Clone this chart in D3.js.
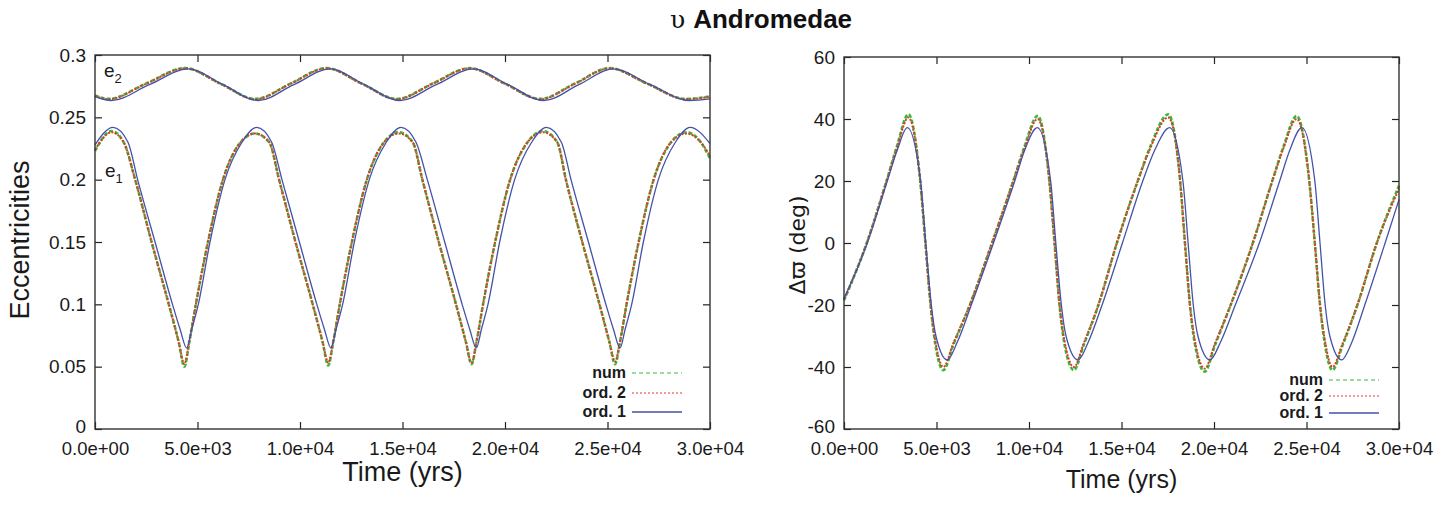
<!DOCTYPE html>
<html>
<head>
<meta charset="utf-8">
<script src="https://cdn.jsdelivr.net/npm/d3@7"></script>
<style>
  body { margin: 0; background: #fff; }
  svg { font-family: "Liberation Sans", Arial, Helvetica, sans-serif; }
</style>
</head>
<body>
<div id="chart"></div>
<script>
// ---- data ----
var xTicks = [0, 5000, 10000, 15000, 20000, 25000, 30000];
var xTickLabels = ["0.0e+00", "5.0e+03", "1.0e+04", "1.5e+04", "2.0e+04", "2.5e+04", "3.0e+04"];
var eTicks = [0, 0.05, 0.1, 0.15, 0.2, 0.25, 0.3];
var eTickLabels = ["0", "0.05", "0.1", "0.15", "0.2", "0.25", "0.3"];
var dTicks = [-60, -40, -20, 0, 20, 40, 60];
var dTickLabels = ["-60", "-40", "-20", "0", "20", "40", "60"];
var seriesNames = ["num", "ord. 2", "ord. 1"];

// e1, ord. 1 (time in yrs)
var tE1Ord1 = [0, 880, 1610,
  2080, 2930, 3780, 4150, 4470, 4720, 5040, 5610, 6340, 7170, 7890, 8620,
  9120, 9970, 10820, 11190, 11510, 11760, 12080, 12650, 13380, 14210, 14930, 15660,
  16210, 17060, 17910, 18280, 18600, 18850, 19170, 19740, 20470, 21300, 22020, 22750,
  23220, 24070, 24920, 25290, 25610, 25860, 26180, 26750, 27480, 28310, 29030, 30000];
var e1Ord1 = [0.228, 0.242, 0.23,
  0.2, 0.15, 0.1, 0.08, 0.065, 0.08, 0.1, 0.15, 0.2, 0.23, 0.242, 0.23,
  0.2, 0.15, 0.1, 0.08, 0.065, 0.08, 0.1, 0.15, 0.2, 0.23, 0.242, 0.23,
  0.2, 0.15, 0.1, 0.08, 0.065, 0.08, 0.1, 0.15, 0.2, 0.23, 0.242, 0.23,
  0.2, 0.15, 0.1, 0.08, 0.065, 0.08, 0.1, 0.15, 0.2, 0.23, 0.242, 0.229];

// e1, num and ord. 2 share the same time samples
var tE1Num = [0, 810, 1400,
  1960, 2760, 3600, 4080, 4360, 4600, 4920, 5510, 6240, 7100, 7800, 8500,
  8980, 9780, 10620, 11100, 11380, 11620, 11940, 12530, 13260, 14100, 14820, 15500,
  15970, 16770, 17610, 18090, 18370, 18610, 18930, 19520, 20250, 21100, 21850, 22550,
  22970, 23770, 24610, 25090, 25370, 25610, 25930, 26520, 27250, 28100, 28860, 29550, 30000];
var e1Num = [0.223, 0.239, 0.23,
  0.2, 0.15, 0.1, 0.07, 0.050, 0.07, 0.1, 0.15, 0.2, 0.23, 0.237, 0.23,
  0.2, 0.15, 0.1, 0.07, 0.051, 0.07, 0.1, 0.15, 0.2, 0.23, 0.238, 0.23,
  0.2, 0.15, 0.1, 0.07, 0.052, 0.07, 0.1, 0.15, 0.2, 0.23, 0.239, 0.23,
  0.2, 0.15, 0.1, 0.07, 0.052, 0.07, 0.1, 0.15, 0.2, 0.23, 0.238, 0.23, 0.217];
var e1Ord2 = [0.224, 0.238, 0.23,
  0.2, 0.15, 0.1, 0.07, 0.052, 0.07, 0.1, 0.15, 0.2, 0.23, 0.237, 0.23,
  0.2, 0.15, 0.1, 0.07, 0.053, 0.07, 0.1, 0.15, 0.2, 0.23, 0.237, 0.23,
  0.2, 0.15, 0.1, 0.07, 0.053, 0.07, 0.1, 0.15, 0.2, 0.23, 0.238, 0.23,
  0.2, 0.15, 0.1, 0.07, 0.054, 0.07, 0.1, 0.15, 0.2, 0.23, 0.237, 0.23, 0.219];

// e2
var tE2Ord1 = [0, 800, 2650, 4550, 6250, 7970, 9700, 11460, 13150, 14880, 16650, 18450,
  20150, 21900, 23600, 25280, 27100, 29000, 30000];
var e2Ord1 = [0.2666, 0.2635, 0.2762, 0.2888, 0.2762, 0.2635, 0.2762, 0.2888, 0.2762, 0.2635, 0.2762, 0.2888,
  0.2762, 0.2635, 0.2762, 0.2888, 0.2762, 0.2635, 0.2648];
var tE2Num = [0, 650, 2500, 4400, 6100, 7820, 9550, 11300, 13000, 14720, 16480, 18280,
  19980, 21720, 23420, 25100, 26920, 28820, 30000];
var e2Num = [0.2675, 0.2648, 0.2772, 0.2895, 0.2772, 0.2648, 0.2772, 0.2895, 0.2772, 0.2648, 0.2772, 0.2895,
  0.2772, 0.2648, 0.2772, 0.2895, 0.2772, 0.2648, 0.2668];
var e2Ord2 = [0.2672, 0.2645, 0.2770, 0.2893, 0.2770, 0.2645, 0.2770, 0.2893, 0.2770, 0.2645, 0.2770, 0.2893,
  0.2770, 0.2645, 0.2770, 0.2893, 0.2770, 0.2645, 0.2665];

// delta varpi (deg)
var tDpOrd1 = [0, 1260, 2340, 2880,
  3420, 4140, 4420, 4720, 4970, 5580, 6120, 6880, 8080, 9230, 9770,
  10450, 11170, 11450, 11750, 12000, 12650, 13200, 13950, 15050, 16150, 16800,
  17600, 18320, 18600, 18880, 19130, 19780, 20350, 21150, 22450, 23550, 24100,
  24750, 25450, 25730, 26010, 26260, 26900, 27450, 28150, 29250, 30000];
var dpOrd1 = [-18, 0, 20, 30,
  37.2, 20, 0, -20, -30, -37.7, -32, -20, 0, 20, 30,
  37.2, 20, 0, -20, -30, -37.7, -32, -20, 0, 20, 30,
  37.2, 20, 0, -20, -30, -37.7, -32, -20, 0, 20, 30,
  37.2, 20, 0, -20, -30, -37.7, -32, -20, 0, 14];

var tDpNum = [0, 1230, 2300, 2850,
  3480, 4120, 4400, 4680, 4920, 5370, 5900, 6800, 8000, 9150, 9750,
  10470, 11100, 11380, 11650, 11900, 12430, 12950, 13750, 14750, 15880, 16550,
  17530, 18170, 18430, 18700, 18950, 19500, 20050, 20900, 22100, 23150, 23750,
  24470, 25150, 25450, 25730, 25980, 26400, 26950, 27750, 28800, 30000];
var dpNum = [-18.5, 0, 20, 31,
  41.5, 20, 0, -20, -32, -41, -33, -20, 0, 20, 31,
  41, 20, 0, -20, -32, -41, -33, -20, 0, 20, 31,
  41.5, 20, 0, -20, -32, -41.5, -33, -20, 0, 20, 31,
  41, 20, 0, -20, -32, -41, -33, -20, 0, 18.5];
var dpOrd2 = [-18.2, 0, 20, 30.5,
  40.5, 20, 0, -20, -31, -40, -32.5, -20, 0, 20, 30.5,
  40, 20, 0, -20, -31, -40, -32.5, -20, 0, 20, 30.5,
  40.5, 20, 0, -20, -31, -40.5, -32.5, -20, 0, 20, 30.5,
  40, 20, 0, -20, -31, -40, -32.5, -20, 0, 17.5];

// ---- styles ----
var styles = {
  "num":    { color: "#3cb93c", width: 2.6, dash: "4,2", legendDash: "4,3" },
  "ord. 2": { color: "#dd3a2a", width: 2.0, dash: "2,1.5", legendDash: "2,2" },
  "ord. 1": { color: "#4352a8", width: 1.3, dash: null, legendDash: null }
};

var svg = d3.select("#chart")
  .append("svg")
  .attr("width", 1445)
  .attr("height", 505);

function zip(ts, vs) {
  return ts.map(function(t, i) { return [t, vs[i]]; });
}

var panel = function(box, yDomain, yTicks, yLabels, series, opts) {
  var x = d3.scaleLinear().domain([0, 30000]).range([box.left, box.right]);
  var y = d3.scaleLinear().domain(yDomain).range([box.bottom, box.top]);

  var g = svg.append("g");

  var line = d3.line()
    .x(function(d) { return x(d[0]); })
    .y(function(d) { return y(d[1]); })
    .curve(d3.curveMonotoneX);

  //curves
  series.forEach(function(s) {
    var st = styles[s.name];
    g.append("path")
      .attr("d", line(zip(s.t, s.v)))
      .attr("fill", "none")
      .attr("stroke", st.color)
      .attr("stroke-width", st.width)
      .attr("stroke-dasharray", st.dash)
      .attr("stroke-linejoin", "round");
  });

  // axes, ticks pointing inward (gnuplot style)
  var bottom = g.append("g")
    .attr("transform", "translate(0," + box.bottom + ")")
    .call(d3.axisBottom(x).tickValues(xTicks)
      .tickFormat(function(d, i) { return xTickLabels[i]; })
      .tickSize(-7).tickPadding(13));
  var top = g.append("g")
    .attr("transform", "translate(0," + box.top + ")")
    .call(d3.axisTop(x).tickValues(xTicks).tickFormat("").tickSize(-7));
  var left = g.append("g")
    .attr("transform", "translate(" + box.left + ",0)")
    .call(d3.axisLeft(y).tickValues(yTicks)
      .tickFormat(function(d, i) { return yLabels[i]; })
      .tickSize(-7).tickPadding(9));
  var right = g.append("g")
    .attr("transform", "translate(" + box.right + ",0)")
    .call(d3.axisRight(y).tickValues(yTicks).tickFormat("").tickSize(-7));

  [bottom, top, left, right].forEach(function(a) {
    a.select(".domain").remove();
    a.selectAll(".tick line").attr("stroke", "#222").attr("stroke-width", 1.2);
    a.selectAll(".tick text")
      .attr("fill", "#1a1a1a")
      .style("font-family", "'Liberation Sans', Arial, sans-serif")
      .style("font-size", "18.5px");
  });
  left.selectAll(".tick text").style("font-size", opts.yTickSize + "px");
  // lift the lowest y label a little so it clears the first x label
  left.selectAll(".tick text").filter(function(d, i) { return i == 0; }).attr("dy", "0.2em");

  // frame
  g.append("rect")
    .attr("x", box.left).attr("y", box.top)
    .attr("width", box.right - box.left).attr("height", box.bottom - box.top)
    .attr("fill", "none").attr("stroke", "#333").attr("stroke-width", 1.4);

  // legend
  seriesNames.forEach(function(name, i) {
    var st = styles[name];
    var ly = opts.legendY[i];
    g.append("text")
      .attr("x", opts.legendX)
      .attr("y", ly)
      .attr("text-anchor", "end")
      .style("font-weight", "bold")
      .style("font-size", "16px")
      .attr("fill", "#1a1a1a")
      .text(name);
    g.append("line")
      .attr("x1", opts.legendX + 6).attr("x2", opts.legendX + 56)
      .attr("y1", ly - 5).attr("y2", ly - 5)
      .attr("stroke", st.color)
      .attr("stroke-width", name == "ord. 1" ? 1.3 : 1)
      .attr("stroke-dasharray", st.legendDash);
  });

  // axis titles
  g.append("text")
    .attr("x", (box.left + box.right) / 2)
    .attr("y", opts.xTitleY)
    .attr("text-anchor", "middle")
    .style("font-size", opts.titleSize + "px")
    .attr("fill", "#1a1a1a")
    .text("Time (yrs)");
  g.append("text")
    .attr("transform", "translate(" + opts.yTitleX + "," + opts.yTitleYc + ") rotate(-90)")
    .attr("text-anchor", "middle")
    .style("font-size", opts.yTitleSize + "px")
    .style("font-family", opts.yTitleFont)
    .attr("fill", "#1a1a1a")
    .text(opts.yTitle);

  return g;
};

// left: eccentricities
var gl = panel({ left: 95, right: 710, top: 55, bottom: 429 }, [0, 0.3], eTicks, eTickLabels, [
    { name: "num", t: tE1Num, v: e1Num },
    { name: "num", t: tE2Num, v: e2Num },
    { name: "ord. 2", t: tE1Num, v: e1Ord2 },
    { name: "ord. 2", t: tE2Num, v: e2Ord2 },
    { name: "ord. 1", t: tE1Ord1, v: e1Ord1 },
    { name: "ord. 1", t: tE2Ord1, v: e2Ord1 }
  ], { yTickSize: 19, legendX: 626, legendY: [378, 398, 417], xTitleY: 481, titleSize: 27,
       yTitleX: 29, yTitleYc: 240, yTitle: "Eccentricities", yTitleSize: 27,
       yTitleFont: "'Liberation Sans', Arial, sans-serif" });

// e labels
var e2lab = gl.append("text").attr("x", 104).attr("y", 77).style("font-size", "19px").attr("fill", "#1a1a1a");
e2lab.append("tspan").text("e");
e2lab.append("tspan").attr("dy", 6).style("font-size", "13px").text("2");
var e1lab = gl.append("text").attr("x", 105).attr("y", 177).style("font-size", "19px").attr("fill", "#1a1a1a");
e1lab.append("tspan").text("e");
e1lab.append("tspan").attr("dy", 6).style("font-size", "13px").text("1");

// right: delta varpi
panel({ left: 844, right: 1399, top: 57, bottom: 429 }, [-60, 60], dTicks, dTickLabels, [
    { name: "num", t: tDpNum, v: dpNum },
    { name: "ord. 2", t: tDpNum, v: dpOrd2 },
    { name: "ord. 1", t: tDpOrd1, v: dpOrd1 }
  ], { yTickSize: 19, legendX: 1323, legendY: [385, 401, 418], xTitleY: 488, titleSize: 25,
       yTitleX: 805, yTitleYc: 245, yTitle: "\u0394\u03d6 (deg)", yTitleSize: 22,
       yTitleFont: "'DejaVu Sans', 'Liberation Sans', sans-serif" });

// title
var title = svg.append("text").attr("x", 670).attr("y", 28).attr("fill", "#111");
title.append("tspan")
  .style("font-family", "'DejaVu Serif', 'Liberation Serif', serif")
  .style("font-size", "25px")
  .text("\u03c5 ");
title.append("tspan")
  .style("font-weight", "bold")
  .style("font-size", "26px")
  .text("Andromedae");
</script>
</body>
</html>
